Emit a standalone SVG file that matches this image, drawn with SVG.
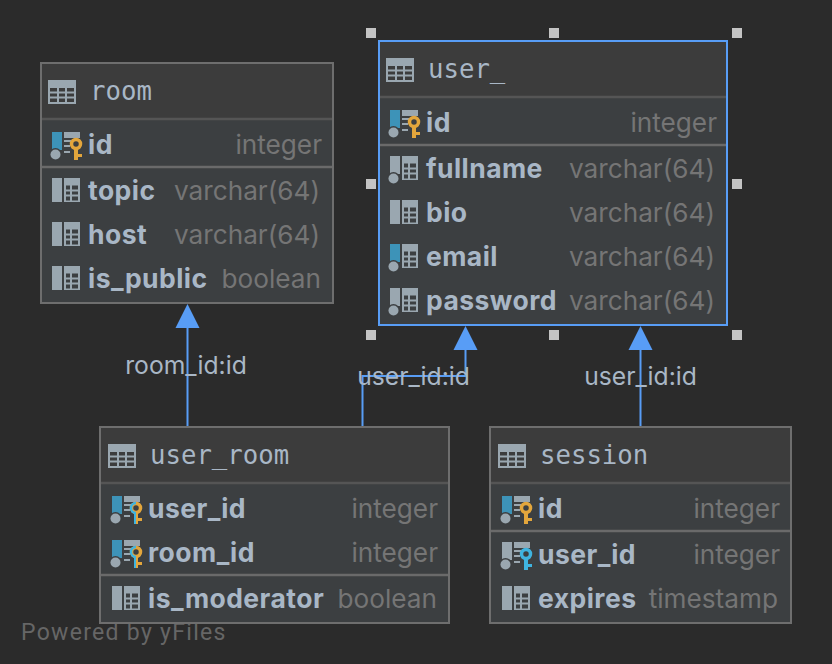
<svg xmlns="http://www.w3.org/2000/svg" width="832" height="664" viewBox="0 0 832 664">
<style>
.box{fill:#3c3f41;stroke:#6e6e6e;stroke-width:2}
.head{fill:#3c3c3c}
.div{stroke:#6a6a6a;stroke-width:2.5}
.hdiv{stroke:#555;stroke-width:2.5}
.title{font:25.700px "DejaVu Sans Mono",monospace;fill:#a9b7c6}
.col{font:bold 26.500px "Inter","Liberation Sans",sans-serif;letter-spacing:.45px;fill:#a9b7c6}
.type{font:26.200px "Inter","Liberation Sans",sans-serif;fill:#757575;text-anchor:end}
.lab{font:24.700px "Inter","Liberation Sans",sans-serif;fill:#a9b7c6;text-anchor:middle}
.edge{fill:none;stroke:#589df6;stroke-width:2}
.arrow{fill:#589df6}
.h{fill:#c4c4c4}
</style>
<defs>
<g id="tbl">
<rect width="28" height="24" fill="#9aa7b0"/>
<path d="M2 8h24v14H2z" fill="#3c3c3c"/>
<path d="M2 12.500h24M2 17.500h24M10 8v14M18 8v14" stroke="#9aa7b0" stroke-width="2" fill="none"/>
</g>
<g id="grid">
<rect x="12" width="16" height="24" fill="#9aa7b0"/>
<path d="M14 7.500h12v15H14z" fill="#3c3f41"/>
<path d="M14 12.500h12M14 17.500h12M19 7v16" stroke="#9aa7b0" stroke-width="2" fill="none"/>
</g>
<g id="c-plain"><rect width="10" height="24" fill="#9aa7b0"/><use href="#grid"/></g>
<g id="c-nn"><rect width="10" height="18" fill="#9aa7b0"/><circle cx="3.500" cy="22.500" r="6.500" fill="#3c3f41"/><circle cx="3.500" cy="22.500" r="5" fill="#9aa7b0"/><use href="#grid"/></g>
<g id="c-blue"><rect width="10" height="18" fill="#3d93b8"/><circle cx="3.500" cy="22.500" r="6.500" fill="#3c3f41"/><circle cx="3.500" cy="22.500" r="5" fill="#9aa7b0"/><use href="#grid"/></g>
<g id="k-grid"><rect x="12" width="16" height="6" fill="#9aa7b0"/><path d="M12 9h7M12 14h6M12 20h6" stroke="#9aa7b0" stroke-width="2" fill="none"/></g>
<g id="c-pk"><rect width="10" height="18" fill="#3d93b8"/><circle cx="3.500" cy="22.500" r="6.500" fill="#3c3f41"/><circle cx="3.500" cy="22.500" r="5" fill="#9aa7b0"/><use href="#k-grid"/>
<circle cx="24" cy="12" r="4.500" fill="none" stroke="#e3a63c" stroke-width="3.500"/><path d="M22 17h4v11h-4zM26 22h4v3h-4z" fill="#e3a63c"/></g>
<g id="c-fk"><rect width="10" height="18" fill="#9aa7b0"/><circle cx="3.500" cy="22.500" r="6.500" fill="#3c3f41"/><circle cx="3.500" cy="22.500" r="5" fill="#9aa7b0"/><use href="#k-grid"/>
<circle cx="24" cy="12" r="4.500" fill="none" stroke="#3fb4e0" stroke-width="3.500"/><path d="M22 17h4v11h-4zM26 22h4v3h-4z" fill="#3fb4e0"/></g>
<g id="c-pfk"><rect width="10" height="18" fill="#3d93b8"/><circle cx="3.500" cy="22.500" r="6.500" fill="#3c3f41"/><circle cx="3.500" cy="22.500" r="5" fill="#9aa7b0"/><use href="#k-grid"/>
<circle cx="24" cy="12" r="4.500" fill="none" stroke="#e3a63c" stroke-width="3.500"/><path d="M24 5.750a6.250 6.250 0 0 0 0 12.500v-2.500a3.750 3.750 0 0 1 0-7.500z" fill="#3fb4e0"/><path d="M24 17h2v11h-2zM26 22h4v3h-4z" fill="#e3a63c"/><path d="M22 17h2v11h-2z" fill="#3fb4e0"/></g>
</defs>
<rect width="832" height="664" fill="#2b2b2b"/>
<text x="21" y="640" style="font:23px 'Roboto','Liberation Sans',sans-serif;fill:#666;letter-spacing:1.300px">Powered by yFiles</text>
<g id="connectors">
<path class="edge" d="M187.500 427V327"/>
<path class="edge" d="M362.500 427V376H465.500V349"/>
<path class="edge" d="M640.500 427V349"/>
<path class="arrow" d="M187.500 304l12 24h-24z"/>
<path class="arrow" d="M465.500 326l12 24h-24z"/>
<path class="arrow" d="M640.500 326l12 24h-24z"/>
<text class="lab" x="186" y="374">room_id:id</text>
<text class="lab" x="413.500" y="385">user_id:id</text>
<text class="lab" x="640.500" y="385">user_id:id</text>
</g>
<g id="room">
<rect class="box" x="41" y="63" width="292" height="240"/>
<rect class="head" x="42" y="64" width="290" height="54"/>
<path class="hdiv" d="M42 119H332"/><path class="div" d="M42 167H332"/>
<use href="#tbl" x="48" y="80"/><text class="title" x="90" y="100">room</text>
<use href="#c-pk" x="52" y="132"/><text class="col" x="88" y="154">id</text><text class="type" x="322" y="154">integer</text>
<use href="#c-plain" x="52" y="178"/><text class="col" x="88" y="200">topic</text><text class="type" x="320" y="200">varchar(64)</text>
<use href="#c-plain" x="52" y="222"/><text class="col" x="88" y="244">host</text><text class="type" x="320" y="244">varchar(64)</text>
<use href="#c-plain" x="52" y="266"/><text class="col" x="88" y="288">is_public</text><text class="type" x="321" y="288">boolean</text>
</g>
<g id="user_">
<rect class="box" x="379" y="41" width="348" height="284" style="stroke:#589df6"/>
<rect class="head" x="380" y="42" width="346" height="54"/>
<path class="hdiv" d="M380 97H726"/><path class="div" d="M380 145H726"/>
<use href="#tbl" x="386" y="58"/><text class="title" x="428" y="78">user_</text>
<use href="#c-pk" x="390" y="110"/><text class="col" x="426" y="132">id</text><text class="type" x="717" y="132">integer</text>
<use href="#c-nn" x="390" y="156"/><text class="col" x="426" y="178">fullname</text><text class="type" x="715" y="178">varchar(64)</text>
<use href="#c-plain" x="390" y="200"/><text class="col" x="426" y="222">bio</text><text class="type" x="715" y="222">varchar(64)</text>
<use href="#c-blue" x="390" y="244"/><text class="col" x="426" y="266">email</text><text class="type" x="715" y="266">varchar(64)</text>
<use href="#c-nn" x="390" y="288"/><text class="col" x="426" y="310">password</text><text class="type" x="715" y="310">varchar(64)</text>
</g>
<g id="user_room">
<rect class="box" x="100" y="427" width="349" height="196"/>
<rect class="head" x="101" y="428" width="347" height="54"/>
<path class="hdiv" d="M101 483H448"/><path class="div" d="M101 575H448"/>
<use href="#tbl" x="108" y="444"/><text class="title" x="150" y="464">user_room</text>
<use href="#c-pfk" x="112" y="496"/><text class="col" x="148" y="518">user_id</text><text class="type" x="438" y="518">integer</text>
<use href="#c-pfk" x="112" y="540"/><text class="col" x="148" y="562">room_id</text><text class="type" x="438" y="562">integer</text>
<use href="#c-plain" x="112" y="586"/><text class="col" x="148" y="608">is_moderator</text><text class="type" x="437" y="608">boolean</text>
</g>
<g id="session">
<rect class="box" x="490" y="427" width="301" height="196"/>
<rect class="head" x="491" y="428" width="299" height="54"/>
<path class="hdiv" d="M491 483H790"/><path class="div" d="M491 531H790"/>
<use href="#tbl" x="498" y="444"/><text class="title" x="540" y="464">session</text>
<use href="#c-pk" x="502" y="496"/><text class="col" x="538" y="518">id</text><text class="type" x="780" y="518">integer</text>
<use href="#c-fk" x="502" y="542"/><text class="col" x="538" y="564">user_id</text><text class="type" x="780" y="564">integer</text>
<use href="#c-plain" x="502" y="586"/><text class="col" x="538" y="608">expires</text><text class="type" x="778" y="608">timestamp</text>
</g>
<g id="handles">
<rect class="h" x="366" y="28" width="10" height="10"/><rect class="h" x="549" y="28" width="10" height="10"/><rect class="h" x="732" y="28" width="10" height="10"/>
<rect class="h" x="366" y="179" width="10" height="10"/><rect class="h" x="732" y="179" width="10" height="10"/>
<rect class="h" x="366" y="330" width="10" height="10"/><rect class="h" x="549" y="330" width="10" height="10"/><rect class="h" x="732" y="330" width="10" height="10"/>
</g>
</svg>
